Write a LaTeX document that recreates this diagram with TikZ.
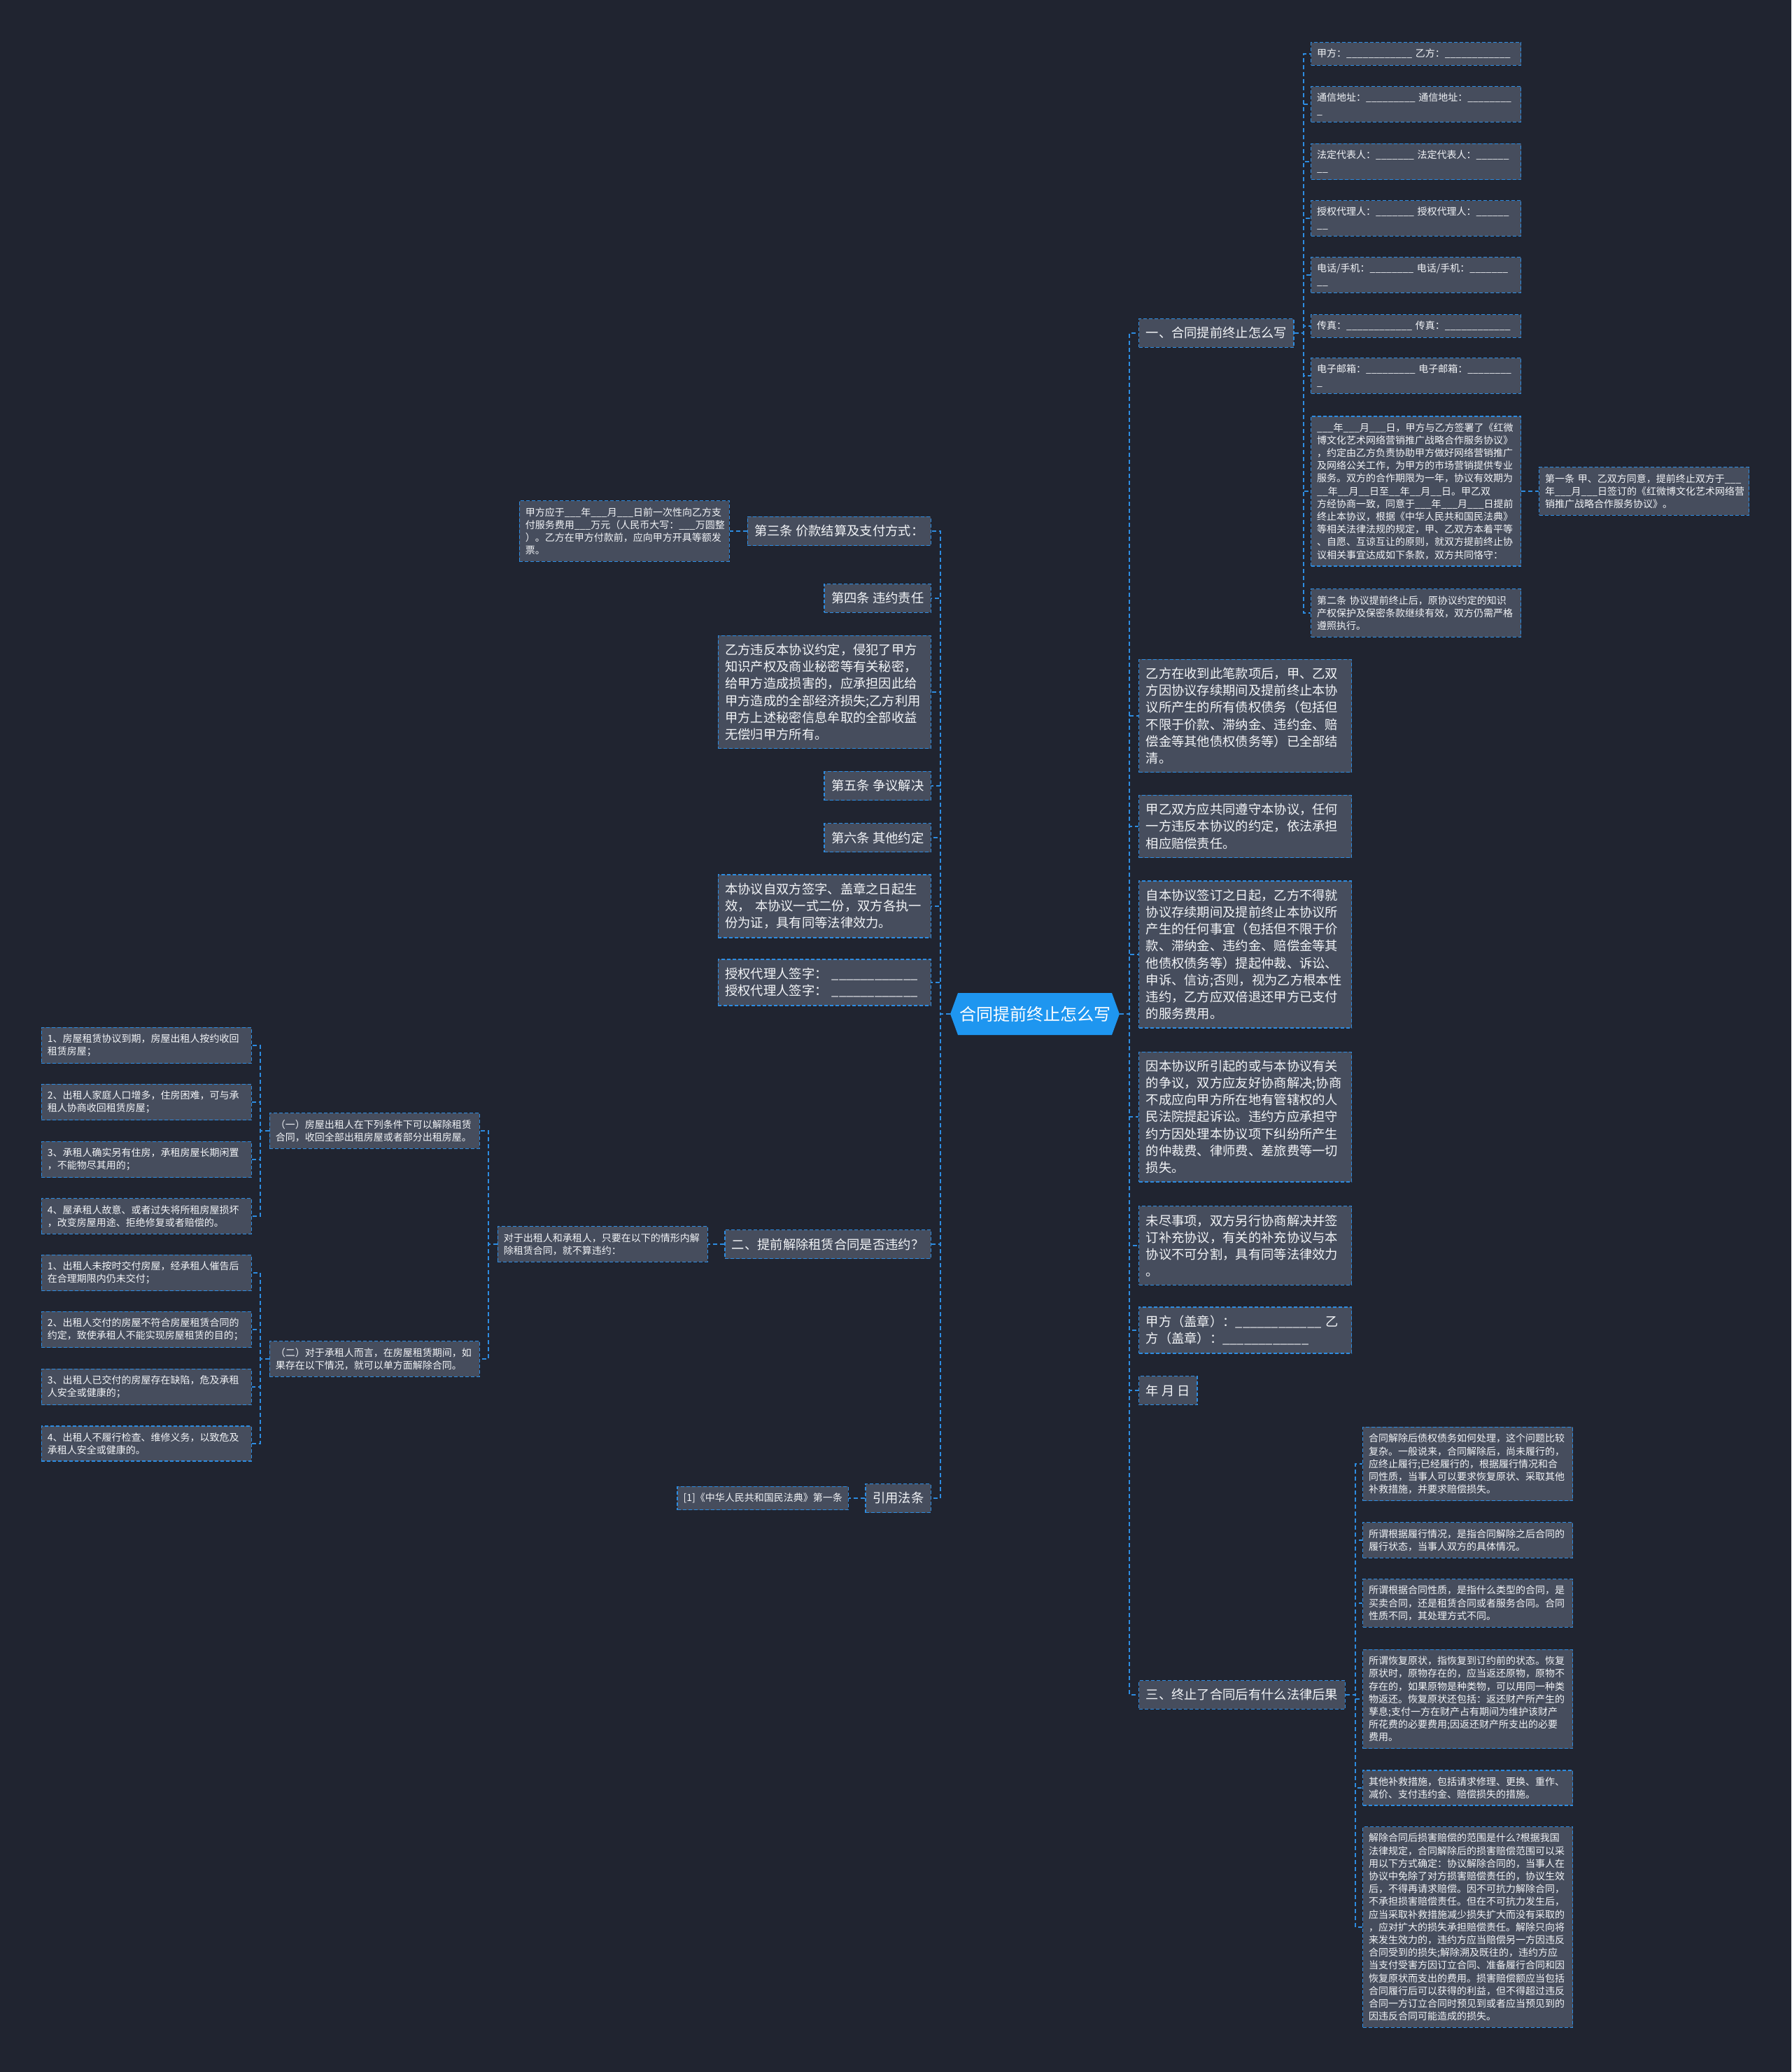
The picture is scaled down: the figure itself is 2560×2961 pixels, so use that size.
\documentclass[tikz,border=0pt]{standalone}
\usepackage{fontspec}
\setmainfont{Noto Sans CJK SC}
\usepackage{tikz}
\usetikzlibrary{shapes.symbols,positioning}
\definecolor{canvasbg}{RGB}{32,36,48}
\definecolor{boxfill}{RGB}{70,77,93}
\definecolor{edgeblue}{RGB}{45,140,225}
\definecolor{rootblue}{RGB}{30,150,240}
\definecolor{inktext}{RGB}{242,244,247}

\begin{document}
\begin{tikzpicture}[x=1pt, y=-1pt,
  root/.style={signal, signal to=west and east, signal pointer angle=140, fill=rootblue, text=white, font=\fontsize{24}{28}\selectfont, minimum height=60pt, inner xsep=2pt},
  topic/.style={draw=edgeblue, dash pattern=on 5pt off 3pt, line width=1.4pt, fill=boxfill, text=inktext, font=\fontsize{18.3}{24.1}\selectfont, inner xsep=10pt, inner ysep=12pt, align=left},
  topicwide/.style={topic, text width=284pt},
  leaf/.style={topic, font=\fontsize{14}{18.2}\selectfont, inner xsep=8.5pt, inner ysep=9.5pt},
  leafwide/.style={leaf, text width=283pt},
  link/.style={draw=edgeblue, line width=2pt, dash pattern=on 6pt off 4pt}
]
\fill[canvasbg] (0,0) rectangle (2560,2961);

\node[root] (main) at (1479,1449) {合同提前终止怎么写};

\node[topic, anchor=west] (qa) at (1627,476) {一、合同提前终止怎么写};
\node[topicwide, anchor=west] (settle) at (1627,1023) {乙方在收到此笔款项后，甲、乙双\\方因协议存续期间及提前终止本协\\议所产生的所有债权债务（包括但\\不限于价款、滞纳金、违约金、赔\\偿金等其他债权债务等）已全部结\\清。};
\node[topicwide, anchor=west] (comply) at (1627,1181) {甲乙双方应共同遵守本协议，任何\\一方违反本协议的约定，依法承担\\相应赔偿责任。};
\node[topicwide, anchor=west] (nosue) at (1627,1364) {自本协议签订之日起，乙方不得就\\协议存续期间及提前终止本协议所\\产生的任何事宜（包括但不限于价\\款、滞纳金、违约金、赔偿金等其\\他债权债务等）提起仲裁、诉讼、\\申诉、信访;否则，视为乙方根本性\\违约，乙方应双倍退还甲方已支付\\的服务费用。};
\node[topicwide, anchor=west] (dispute) at (1627,1596) {因本协议所引起的或与本协议有关\\的争议，双方应友好协商解决;协商\\不成应向甲方所在地有管辖权的人\\民法院提起诉讼。违约方应承担守\\约方因处理本协议项下纠纷所产生\\的仲裁费、律师费、差旅费等一切\\损失。};
\node[topicwide, anchor=west] (extra) at (1627,1780) {未尽事项，双方另行协商解决并签\\订补充协议，有关的补充协议与本\\协议不可分割，具有同等法律效力\\。};
\node[topicwide, anchor=west] (seal) at (1627,1901) {甲方（盖章）：\_\_\_\_\_\_\_\_\_\_\_\_~乙\\方（盖章）：\_\_\_\_\_\_\_\_\_\_\_\_};
\node[topic, anchor=west] (date) at (1627,1987) {年~月~日};
\node[topic, anchor=west] (qc) at (1627,2422) {三、终止了合同后有什么法律后果};

\node[leafwide, anchor=west] (partyA) at (1873,77) {甲方：\_\_\_\_\_\_\_\_\_\_\_\_~乙方：\_\_\_\_\_\_\_\_\_\_\_\_};
\node[leafwide, anchor=west] (addr) at (1873,149) {通信地址：\_\_\_\_\_\_\_\_\_~通信地址：\_\_\_\_\_\_\_\_\\\_};
\node[leafwide, anchor=west] (legalrep) at (1873,231) {法定代表人：\_\_\_\_\_\_\_~法定代表人：\_\_\_\_\_\_\\\_\_};
\node[leafwide, anchor=west] (agent) at (1873,312) {授权代理人：\_\_\_\_\_\_\_~授权代理人：\_\_\_\_\_\_\\\_\_};
\node[leafwide, anchor=west] (phone) at (1873,393) {电话/手机：\_\_\_\_\_\_\_\_~电话/手机：\_\_\_\_\_\_\_\\\_\_};
\node[leafwide, anchor=west] (fax) at (1873,466) {传真：\_\_\_\_\_\_\_\_\_\_\_\_~传真：\_\_\_\_\_\_\_\_\_\_\_\_};
\node[leafwide, anchor=west] (email) at (1873,537) {电子邮箱：\_\_\_\_\_\_\_\_\_~电子邮箱：\_\_\_\_\_\_\_\_\\\_};
\node[leafwide, anchor=west] (recital) at (1873,702) {\_\_\_年\_\_\_月\_\_\_日，甲方与乙方签署了《红微\\博文化艺术网络营销推广战略合作服务协议》\\，约定由乙方负责协助甲方做好网络营销推广\\及网络公关工作，为甲方的市场营销提供专业\\服务。双方的合作期限为一年，协议有效期为\\\_\_年\_\_月\_\_日至\_\_年\_\_月\_\_日。甲乙双\\方经协商一致，同意于\_\_\_年\_\_\_月\_\_\_日提前\\终止本协议，根据《中华人民共和国民法典》\\等相关法律法规的规定，甲、乙双方本着平等\\、自愿、互谅互让的原则，就双方提前终止协\\议相关事宜达成如下条款，双方共同恪守：};
\node[leafwide, anchor=west] (art2) at (1873,876) {第二条~协议提前终止后，原协议约定的知识\\产权保护及保密条款继续有效，双方仍需严格\\遵照执行。};
\node[leafwide, anchor=west] (art1) at (2199,702) {第一条~甲、乙双方同意，提前终止双方于\_\_\_\\年\_\_\_月\_\_\_日签订的《红微博文化艺术网络营\\销推广战略合作服务协议》。};

\node[leafwide, anchor=west] (cons1) at (1947,2092) {合同解除后债权债务如何处理，这个问题比较\\复杂。一般说来，合同解除后，尚未履行的，\\应终止履行;已经履行的，根据履行情况和合\\同性质，当事人可以要求恢复原状、采取其他\\补救措施，并要求赔偿损失。};
\node[leafwide, anchor=west] (cons2) at (1947,2201) {所谓根据履行情况，是指合同解除之后合同的\\履行状态，当事人双方的具体情况。};
\node[leafwide, anchor=west] (cons3) at (1947,2291) {所谓根据合同性质，是指什么类型的合同，是\\买卖合同，还是租赁合同或者服务合同。合同\\性质不同，其处理方式不同。};
\node[leafwide, anchor=west] (cons4) at (1947,2428) {所谓恢复原状，指恢复到订约前的状态。恢复\\原状时，原物存在的，应当返还原物，原物不\\存在的，如果原物是种类物，可以用同一种类\\物返还。恢复原状还包括：返还财产所产生的\\孳息;支付一方在财产占有期间为维护该财产\\所花费的必要费用;因返还财产所支出的必要\\费用。};
\node[leafwide, anchor=west] (cons5) at (1947,2555) {其他补救措施，包括请求修理、更换、重作、\\减价、支付违约金、赔偿损失的措施。};
\node[leafwide, anchor=west] (cons6) at (1947,2754) {解除合同后损害赔偿的范围是什么?根据我国\\法律规定，合同解除后的损害赔偿范围可以采\\用以下方式确定：协议解除合同的，当事人在\\协议中免除了对方损害赔偿责任的，协议生效\\后，不得再请求赔偿。因不可抗力解除合同，\\不承担损害赔偿责任。但在不可抗力发生后，\\应当采取补救措施减少损失扩大而没有采取的\\，应对扩大的损失承担赔偿责任。解除只向将\\来发生效力的，违约方应当赔偿另一方因违反\\合同受到的损失;解除溯及既往的，违约方应\\当支付受害方因订立合同、准备履行合同和因\\恢复原状而支出的费用。损害赔偿额应当包括\\合同履行后可以获得的利益，但不得超过违反\\合同一方订立合同时预见到或者应当预见到的\\因违反合同可能造成的损失。};

\node[topic, anchor=east] (pay) at (1331,759) {第三条 价款结算及支付方式：};
\node[topic, anchor=east] (breach) at (1331,855) {第四条 违约责任};
\node[topicwide, anchor=east] (infringe) at (1331,989) {乙方违反本协议约定，侵犯了甲方\\知识产权及商业秘密等有关秘密，\\给甲方造成损害的，应承担因此给\\甲方造成的全部经济损失;乙方利用\\甲方上述秘密信息牟取的全部收益\\无偿归甲方所有。};
\node[topic, anchor=east] (resolve) at (1331,1123) {第五条 争议解决};
\node[topic, anchor=east] (misc) at (1331,1197) {第六条 其他约定};
\node[topicwide, anchor=east] (effect) at (1331,1295) {本协议自双方签字、盖章之日起生\\效，~本协议一式二份，双方各执一\\份为证，具有同等法律效力。};
\node[topicwide, anchor=east] (sign) at (1331,1404) {授权代理人签字：~\_\_\_\_\_\_\_\_\_\_\_\_\\授权代理人签字：~\_\_\_\_\_\_\_\_\_\_\_\_};
\node[topic, anchor=east] (qb) at (1331,1778) {二、提前解除租赁合同是否违约？};
\node[topic, anchor=east] (law) at (1331,2141) {引用法条};

\node[leafwide, anchor=east] (payterm) at (1043,759) {甲方应于\_\_\_年\_\_\_月\_\_\_日前一次性向乙方支\\付服务费用\_\_\_万元（人民币大写：\_\_\_万圆整\\）。乙方在甲方付款前，应向甲方开具等额发\\票。};
\node[leafwide, anchor=east] (parties) at (1012,1778) {对于出租人和承租人，只要在以下的情形内解\\除租赁合同，就不算违约：};
\node[leaf, anchor=east] (lawref) at (1213,2141) {[1]《中华人民共和国民法典》第一条};

\node[leafwide, anchor=east] (caseone) at (686,1616) {（一）房屋出租人在下列条件下可以解除租赁\\合同，收回全部出租房屋或者部分出租房屋。};
\node[leafwide, anchor=east] (casetwo) at (686,1942) {（二）对于承租人而言，在房屋租赁期间，如\\果存在以下情况，就可以单方面解除合同。};

\node[leafwide, anchor=east] (lessorA) at (360,1494) {1、房屋租赁协议到期，房屋出租人按约收回\\租赁房屋；};
\node[leafwide, anchor=east] (lessorB) at (360,1575) {2、出租人家庭人口增多，住房困难，可与承\\租人协商收回租赁房屋；};
\node[leafwide, anchor=east] (lessorC) at (360,1657) {3、承租人确实另有住房，承租房屋长期闲置\\，不能物尽其用的；};
\node[leafwide, anchor=east] (lessorD) at (360,1738) {4、屋承租人故意、或者过失将所租房屋损坏\\，改变房屋用途、拒绝修复或者赔偿的。};
\node[leafwide, anchor=east] (lesseeA) at (360,1819) {1、出租人未按时交付房屋，经承租人催告后\\在合理期限内仍未交付；};
\node[leafwide, anchor=east] (lesseeB) at (360,1900) {2、出租人交付的房屋不符合房屋租赁合同的\\约定，致使承租人不能实现房屋租赁的目的；};
\node[leafwide, anchor=east] (lesseeC) at (360,1982) {3、出租人已交付的房屋存在缺陷，危及承租\\人安全或健康的；};
\node[leafwide, anchor=east] (lesseeD) at (360,2063) {4、出租人不履行检查、维修义务，以致危及\\承租人安全或健康的。};

\draw[link] (main.east) -- ++(14,0) |- (qa.west);
\draw[link] (main.east) -- ++(14,0) |- (settle.west);
\draw[link] (main.east) -- ++(14,0) |- (comply.west);
\draw[link] (main.east) -- ++(14,0) |- (nosue.west);
\draw[link] (main.east) -- ++(14,0) |- (dispute.west);
\draw[link] (main.east) -- ++(14,0) |- (extra.west);
\draw[link] (main.east) -- ++(14,0) |- (seal.west);
\draw[link] (main.east) -- ++(14,0) |- (date.west);
\draw[link] (main.east) -- ++(14,0) |- (qc.west);

\draw[link] (main.west) -- ++(-14,0) |- (pay.east);
\draw[link] (main.west) -- ++(-14,0) |- (breach.east);
\draw[link] (main.west) -- ++(-14,0) |- (infringe.east);
\draw[link] (main.west) -- ++(-14,0) |- (resolve.east);
\draw[link] (main.west) -- ++(-14,0) |- (misc.east);
\draw[link] (main.west) -- ++(-14,0) |- (effect.east);
\draw[link] (main.west) -- ++(-14,0) |- (sign.east);
\draw[link] (main.west) -- ++(-14,0) |- (qb.east);
\draw[link] (main.west) -- ++(-14,0) |- (law.east);

\draw[link] (qa.east) -- ++(13,0) |- (partyA.west);
\draw[link] (qa.east) -- ++(13,0) |- (addr.west);
\draw[link] (qa.east) -- ++(13,0) |- (legalrep.west);
\draw[link] (qa.east) -- ++(13,0) |- (agent.west);
\draw[link] (qa.east) -- ++(13,0) |- (phone.west);
\draw[link] (qa.east) -- ++(13,0) |- (fax.west);
\draw[link] (qa.east) -- ++(13,0) |- (email.west);
\draw[link] (qa.east) -- ++(13,0) |- (recital.west);
\draw[link] (qa.east) -- ++(13,0) |- (art2.west);
\draw[link] (recital.east) -- (art1.west);

\draw[link] (qc.east) -- ++(14,0) |- (cons1.west);
\draw[link] (qc.east) -- ++(14,0) |- (cons2.west);
\draw[link] (qc.east) -- ++(14,0) |- (cons3.west);
\draw[link] (qc.east) -- ++(14,0) |- (cons4.west);
\draw[link] (qc.east) -- ++(14,0) |- (cons5.west);
\draw[link] (qc.east) -- ++(14,0) |- (cons6.west);

\draw[link] (pay.west) -- (payterm.east);
\draw[link] (qb.west) -- (parties.east);
\draw[link] (law.west) -- (lawref.east);

\draw[link] (parties.west) -- ++(-13,0) |- (caseone.east);
\draw[link] (parties.west) -- ++(-13,0) |- (casetwo.east);

\draw[link] (caseone.west) -- ++(-13,0) |- (lessorA.east);
\draw[link] (caseone.west) -- ++(-13,0) |- (lessorB.east);
\draw[link] (caseone.west) -- ++(-13,0) |- (lessorC.east);
\draw[link] (caseone.west) -- ++(-13,0) |- (lessorD.east);
\draw[link] (casetwo.west) -- ++(-13,0) |- (lesseeA.east);
\draw[link] (casetwo.west) -- ++(-13,0) |- (lesseeB.east);
\draw[link] (casetwo.west) -- ++(-13,0) |- (lesseeC.east);
\draw[link] (casetwo.west) -- ++(-13,0) |- (lesseeD.east);

\end{tikzpicture}
\end{document}
